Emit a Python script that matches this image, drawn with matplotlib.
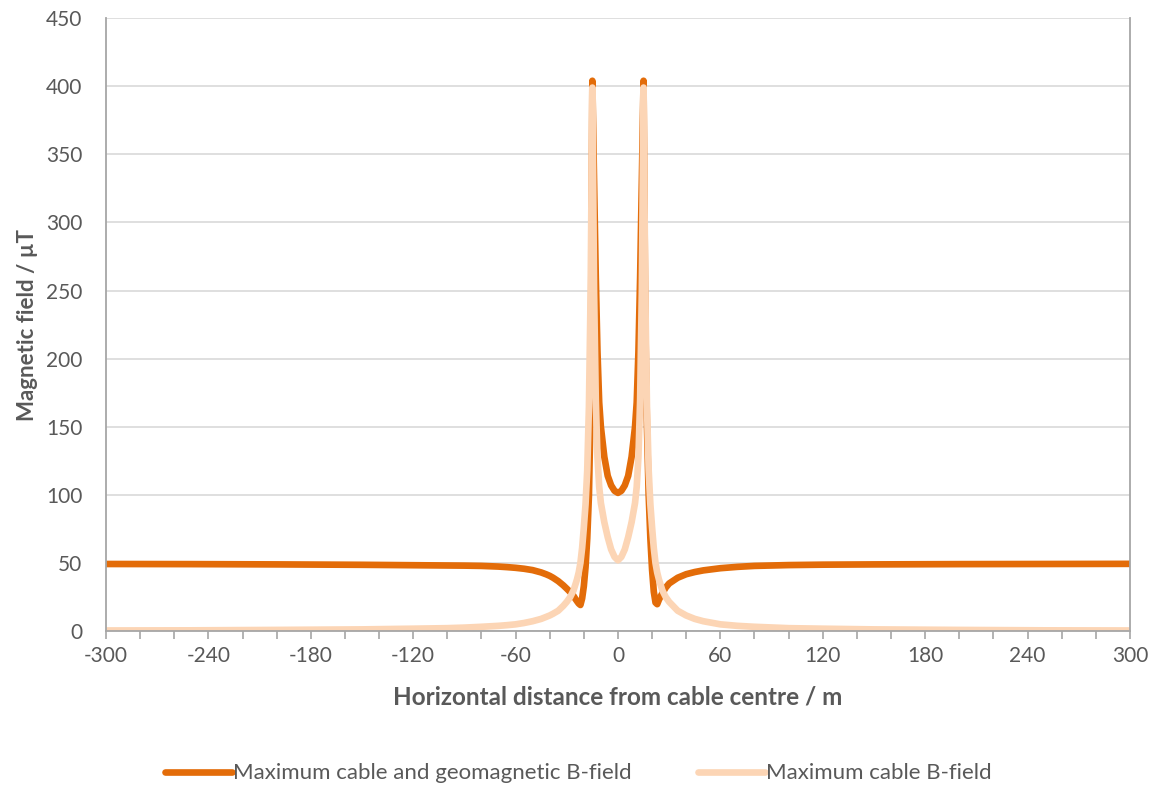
import matplotlib.pyplot as plt
from matplotlib.ticker import MultipleLocator

# distance from cable centre (m)
dist = [-300, -250, -200, -150, -120, -100, -90, -80, -70, -65, -60, -55, -50, -45, -42, -40, -38, -35,
        -32, -30, -28, -26, -25, -24, -23, -22, -21, -20, -19, -18, -17, -16, -15, -14, -13,
        -12, -11, -10, -8, -6, -4, -2, 0, 2, 4, 6, 8, 10, 11, 12, 13, 14, 15, 16,
        17, 18, 19, 20, 21, 22, 23, 24, 25, 26, 28, 30, 35, 40, 45, 50, 60, 70, 80,
        100, 120, 150, 200, 250, 300]

# cable + geomagnetic field (uT)
b_total = [49.3, 49.2, 49.0, 48.7, 48.4, 48.2, 48.1, 47.9, 47.4, 47.0, 46.5, 45.8, 44.8, 43.1, 41.7, 40.6, 39.2, 36.7,
           33.6, 31.2, 28.7, 25.8, 23.8, 22.0, 20.3, 19.2, 24, 33, 47, 68, 100, 165, 404, 330, 260,
           205, 168, 150, 128, 114, 107, 103, 101.5, 103, 107, 114, 128, 150, 168, 205, 260, 330, 404, 230,
           150, 100, 68, 45, 29, 21, 19.8, 23, 25.5, 27.8, 32, 35, 39.2, 41.8, 43.4, 44.6, 46.2, 47.2, 47.9,
           48.5, 48.8, 49.0, 49.2, 49.3, 49.4]

# cable only field (uT)
b_cable = [0.5, 0.6, 0.9, 1.3, 1.8, 2.2, 2.6, 3.2, 3.9, 4.4, 5.0, 6.0, 7.3, 9.0, 10.5, 11.5, 12.8, 15.0,
           18.6, 21.5, 25, 30, 34, 38, 43, 50, 61, 76, 93, 118, 165, 250, 399, 250, 170,
           128, 106, 94, 80, 69, 60, 54.5, 52, 54.5, 60, 69, 80, 94, 106, 128, 170, 250, 399, 250,
           165, 118, 93, 76, 61, 50, 43, 38, 34, 30, 25, 21.5, 15.0, 11.5, 9.0, 7.3, 5.0, 3.9, 3.2,
           2.2, 1.8, 1.3, 0.9, 0.6, 0.5]

txt = '#595959'
plt.rcParams['font.family'] = ['Lato', 'DejaVu Sans']
plt.rcParams['axes.unicode_minus'] = False

fig = plt.figure(figsize=(11.57, 7.86), dpi=100)
ax = fig.add_axes([0.0916, 0.197, 0.885, 0.780])

ax.plot(dist, b_total, color='#E36C09', lw=4.8, solid_capstyle='round',
        solid_joinstyle='round', label='Maximum cable and geomagnetic B-field')
ax.plot(dist, b_cable, color='#FCD5B5', lw=4.8, solid_capstyle='round',
        solid_joinstyle='round', label='Maximum cable B-field')

ax.set_xlim(-300, 300)
ax.set_ylim(0, 450)
ax.xaxis.set_major_locator(MultipleLocator(60))
ax.xaxis.set_minor_locator(MultipleLocator(20))
ax.yaxis.set_major_locator(MultipleLocator(50))
ax.grid(axis='y', color='#D9D9D9', lw=1.2)
ax.set_axisbelow(True)

ax.spines['top'].set_visible(False)
for s in ['left', 'right', 'bottom']:
    ax.spines[s].set_color('#A6A6A6')
    ax.spines[s].set_linewidth(1.3)

ax.tick_params(axis='x', which='both', length=6, width=1.2, color='#A6A6A6',
               labelsize=15, labelcolor=txt, pad=5)
ax.tick_params(axis='y', length=0, labelsize=15, labelcolor=txt, pad=17)

ax.set_xlabel('Horizontal distance from cable centre / m', fontsize=17.5, fontweight='bold',
              color=txt, labelpad=14)
ax.set_ylabel('Magnetic field / µT', fontsize=16, fontweight='bold', color=txt, labelpad=6)

fig.legend(loc='lower center', bbox_to_anchor=(0.5, -0.022), ncol=2, frameon=False,
           fontsize=16, labelcolor=txt, handlelength=3.0, handletextpad=0.05,
           columnspacing=3.0)

fig.savefig('out.png', dpi=100)
